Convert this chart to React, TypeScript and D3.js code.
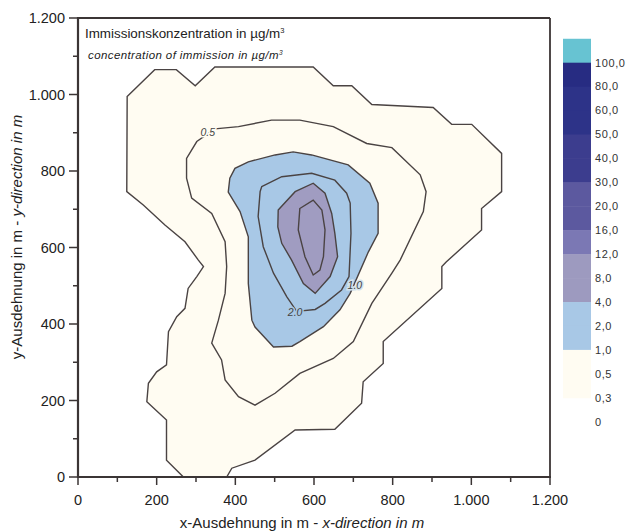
import React from 'react'
import * as d3 from 'd3'

// contour polygons, in metres
const level03: [number, number][] = [
  [125, 995], [195, 1065], [250, 1065], [298, 1023], [348, 1072], [598, 1072], [649, 1023],
  [696, 1023], [747, 974], [903, 966], [950, 922], [1001, 922], [1077, 846], [1077, 746],
  [1026, 702], [1026, 646], [936, 562], [925, 550], [925, 493], [776, 354], [776, 297],
  [725, 249], [721, 193], [653, 125], [552, 123], [450, 44], [391, 23], [378, 0], [268, 0],
  [225, 44], [225, 149], [175, 197], [179, 245], [200, 275], [225, 293], [230, 380],
  [251, 419], [272, 441], [280, 493], [302, 524], [319, 550], [306, 567], [272, 615],
  [221, 659], [166, 711], [124, 746],
]
const level05: [number, number][] = [
  [348, 910], [408, 916], [492, 933], [564, 933], [649, 916], [734, 872], [798, 861],
  [870, 790], [885, 746], [878, 694], [819, 567], [798, 533], [747, 454], [700, 354],
  [649, 310], [564, 271], [501, 219], [450, 188], [408, 210], [374, 254], [365, 306],
  [340, 350], [357, 410], [374, 480], [378, 550], [374, 615], [340, 689], [289, 729],
  [276, 781], [276, 833], [302, 877],
]
const level1: [number, number][] = [
  [382, 745], [386, 781], [399, 807], [433, 824], [501, 842], [547, 850], [594, 842],
  [687, 816], [742, 768], [763, 716], [763, 637], [738, 588], [692, 480], [666, 437],
  [624, 393], [564, 354], [544, 342], [497, 340], [450, 392], [442, 410], [433, 506],
  [433, 628], [412, 694],
]
const level2: [number, number][] = [
  [467, 759], [518, 785], [594, 794], [653, 776], [683, 742], [692, 716], [694, 637],
  [689, 524], [670, 489], [628, 454], [603, 438], [556, 433], [531, 471], [497, 533],
  [471, 602], [458, 681], [463, 746],
]
const level4: [number, number][] = [
  [509, 698], [552, 746], [598, 768], [628, 742], [645, 689], [653, 637], [660, 576],
  [641, 524], [603, 480], [573, 506], [543, 567], [518, 611], [508, 654],
]
const level8: [number, number][] = [
  [564, 702], [598, 724], [620, 698], [628, 646], [624, 576], [615, 541], [598, 528],
  [577, 576], [560, 646],
]

const lineLabels = [
  { text: '0.5', x: 330, y: 900, bg: '#fffcf2' },
  { text: '2.0', x: 552, y: 430, bg: '#a8c8e6' },
  { text: '1.0', x: 704, y: 502, bg: '#d4e2ec' },
]

const legendLabels = ['100,0', '80,0', '60,0', '50,0', '40,0', '30,0', '20,0', '16,0', '12,0', '8,0', '4,0', '2,0', '1,0', '0,5', '0,3', '0']
const legendColors = [
  '#67c3d2', '#272c82', '#2d3388', '#2d3388', '#3c3d8e', '#3c3d8e', '#5c599f', '#5c599f',
  '#7b78b4', '#9d9abf', '#9d9abf', '#a8c8e6', '#a8c8e6', '#fffcf2', '#fffcf2',
]

const xTicks = [0, 200, 400, 600, 800, 1000, 1200]
const yTicks = [0, 200, 400, 600, 800, 1000, 1200]
const minorTicks = [100, 300, 500, 700, 900, 1100]

const de = d3.formatLocale({ decimal: ',', thousands: '.', grouping: [3], currency: ['', '€'] })
const fmt = de.format(',')

const font = '"Liberation Sans", Arial, sans-serif'
const ink = '#3b3535'

export default function App() {
  const x = d3.scaleLinear().domain([0, 1200]).range([78, 550])
  const y = d3.scaleLinear().domain([0, 1200]).range([477, 18])
  const line = d3.line<[number, number]>().x(d => x(d[0])).y(d => y(d[1])).curve(d3.curveLinearClosed)

  const legendY = d3.scaleLinear().domain([0, legendLabels.length - 1]).range([62.7, 421.7])
  const step = legendY(1) - legendY(0)

  const stroke = '#4a4343'
  return (
    <svg width={630} height={532} style={{ position: 'absolute', left: 0, top: 0, background: '#fff' }} fontFamily={font}>
      <path d={line(level03)!} fill="#fffcf2" stroke={stroke} strokeWidth={1.4} />
      <path d={line(level05)!} fill="none" stroke={stroke} strokeWidth={1.4} />
      <path d={line(level1)!} fill="#a8c8e6" stroke={stroke} strokeWidth={1.4} />
      <path d={line(level2)!} fill="none" stroke={stroke} strokeWidth={1.4} />
      <path d={line(level4)!} fill="#a09cc1" stroke={stroke} strokeWidth={1.4} />
      <path d={line(level8)!} fill="none" stroke={stroke} strokeWidth={1.4} />

      {lineLabels.map(l => (
        <text key={l.text} x={x(l.x)} y={y(l.y)} fontSize={10.5} fontStyle="italic" fill="#444"
          textAnchor="middle" dy="0.35em" stroke={l.bg} strokeWidth={3} paintOrder="stroke">
          {l.text}
        </text>
      ))}

      <text x={85} y={38} fontSize={13.4} fill="#222">
        Immissionskonzentration in µg/m<tspan dy={-5} fontSize={7.5}>3</tspan>
      </text>
      <text x={88} y={59} fontSize={11.5} fontStyle="italic" fill="#222" letterSpacing={0.4}>
        concentration of immission in µg/m<tspan dy={-4} fontSize={6.5}>3</tspan>
      </text>

      {/* frame */}
      <line x1={78} x2={550} y1={18} y2={18} stroke={ink} strokeWidth={1.8} />
      <line x1={550} x2={550} y1={18} y2={477} stroke={ink} strokeWidth={1.8} />
      <line x1={78} x2={78} y1={17} y2={478} stroke={ink} strokeWidth={2.2} />
      <line x1={77} x2={551} y1={477} y2={477} stroke={ink} strokeWidth={2.2} />

      {xTicks.map(t => (
        <g key={'x' + t}>
          <line x1={x(t)} x2={x(t)} y1={477} y2={485} stroke={ink} strokeWidth={1.5} />
          <text x={x(t)} y={505} fontSize={14.5} textAnchor="middle" fill="#222">{fmt(t)}</text>
        </g>
      ))}
      {minorTicks.map(t => (
        <line key={'xm' + t} x1={x(t)} x2={x(t)} y1={477} y2={482} stroke={ink} strokeWidth={1.5} />
      ))}
      {yTicks.map(t => (
        <g key={'y' + t}>
          <line x1={69} x2={78} y1={y(t)} y2={y(t)} stroke={ink} strokeWidth={1.5} />
          <text x={65} y={y(t)} dy="0.35em" fontSize={14.5} textAnchor="end" fill="#222">{fmt(t)}</text>
        </g>
      ))}
      {minorTicks.map(t => (
        <line key={'ym' + t} x1={73} x2={78} y1={y(t)} y2={y(t)} stroke={ink} strokeWidth={1.5} />
      ))}

      <text x={302} y={528} fontSize={15} textAnchor="middle" fill="#222">
        x-Ausdehnung in m - <tspan fontStyle="italic">x-direction in m</tspan>
      </text>
      <text transform="translate(22,237) rotate(-90)" fontSize={15} textAnchor="middle" fill="#222">
        y-Ausdehnung in m - <tspan fontStyle="italic">y-direction in m</tspan>
      </text>

      {/* legend */}
      {legendColors.map((c, i) => (
        <rect key={'lc' + i} x={563} width={28} y={legendY(i) - step} height={step + 0.5} fill={c} />
      ))}
      {legendLabels.map((l, i) => (
        <text key={'ll' + i} x={595} y={legendY(i)} dy="0.35em" fontSize={11} fill="#333" letterSpacing={0.6}>{l}</text>
      ))}
    </svg>
  )
}
